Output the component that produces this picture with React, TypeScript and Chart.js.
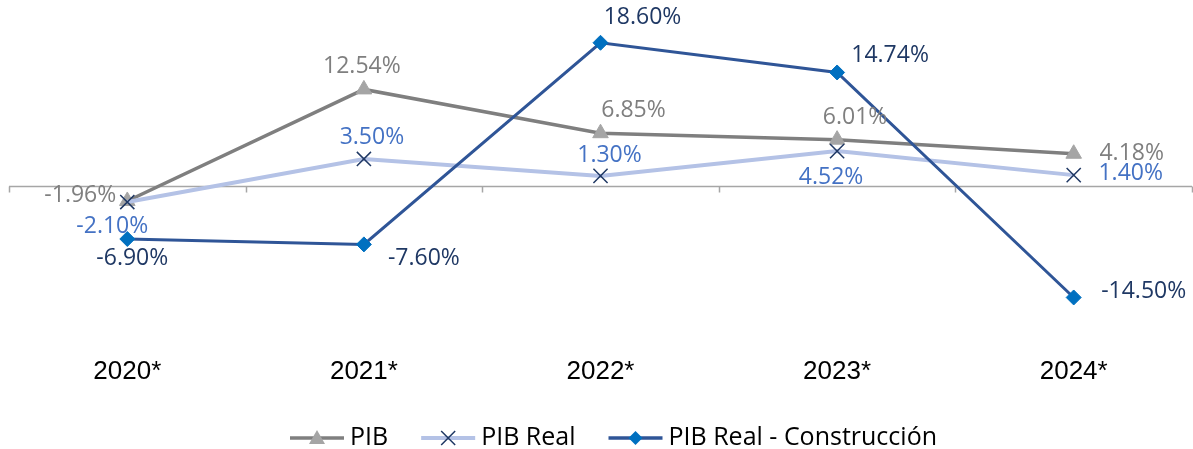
import React, { useEffect, useRef } from 'react';
import { Chart, registerables } from 'chart.js';

Chart.register(...registerables);

const categories = ['2020*', '2021*', '2022*', '2023*', '2024*'];
const seriesNames = ['PIB', 'PIB Real', 'PIB Real - Construcción'];
const pib = [-1.96, 12.54, 6.85, 6.01, 4.18];
const pibReal = [-2.1, 3.5, 1.3, 4.52, 1.4];
const pibConstruccion = [-6.9, -7.6, 18.6, 14.74, -14.5];
const yMin = -20;
const yMax = 20;

// label placement (offset of label centre from its point), per series
const labelOffsets = [
  [[-47, -6], [-2, -23], [33, -23], [18, -22], [58, 0]],
  [[-15, 24], [8, -22], [9, -20], [-6, 26], [57, -2]],
  [[5, 19], [60, 14], [42, -25], [53, -17], [70, -6]],
];

const lineColors = ['#7f7f7f', '#b4c2e6', '#2f5597'];
const labelColors = ['#7f7f7f', '#4472c4', '#1f3864'];
const LABEL_FONT = '23px "Open Sans"';
const LEGEND_FONT = '25px "Open Sans"';

function fmt(v: number) {
  return v.toFixed(2) + '%';
}

function drawMarker(ctx: CanvasRenderingContext2D, kind: number, x: number, y: number) {
  ctx.save();
  if (kind === 0) {
    ctx.fillStyle = '#a5a5a5';
    ctx.beginPath();
    ctx.moveTo(x, y - 8);
    ctx.lineTo(x + 8, y + 6);
    ctx.lineTo(x - 8, y + 6);
    ctx.closePath();
    ctx.fill();
  } else if (kind === 1) {
    ctx.strokeStyle = '#1f3864';
    ctx.lineWidth = 1.5;
    ctx.beginPath();
    ctx.moveTo(x - 7, y - 7);
    ctx.lineTo(x + 7, y + 7);
    ctx.moveTo(x + 7, y - 7);
    ctx.lineTo(x - 7, y + 7);
    ctx.stroke();
  } else {
    ctx.fillStyle = '#0070c0';
    ctx.beginPath();
    ctx.moveTo(x, y - 7);
    ctx.lineTo(x + 7, y);
    ctx.lineTo(x, y + 7);
    ctx.lineTo(x - 7, y);
    ctx.closePath();
    ctx.fill();
  }
  ctx.restore();
}

const zeroLinePlugin = {
  id: 'zeroLine',
  beforeDatasetsDraw(chart: any) {
    const { ctx, chartArea, scales } = chart;
    const y = Math.round(scales.y.getPixelForValue(0)) + 0.5;
    const n = categories.length;
    const w = (chartArea.right - chartArea.left) / n;
    ctx.save();
    ctx.strokeStyle = '#a6a6a6';
    ctx.lineWidth = 1.5;
    ctx.beginPath();
    ctx.moveTo(chartArea.left, y);
    ctx.lineTo(chartArea.right, y);
    for (let i = 0; i <= n; i++) {
      const x = Math.round(chartArea.left + i * w) + 0.5;
      ctx.moveTo(x, y);
      ctx.lineTo(x, y + 6);
    }
    ctx.stroke();
    ctx.restore();
  },
};

const labelPlugin = {
  id: 'pointLabels',
  afterDatasetsDraw(chart: any) {
    const { ctx } = chart;
    ctx.save();
    ctx.font = LABEL_FONT;
    ctx.textAlign = 'center';
    ctx.textBaseline = 'middle';
    chart.data.datasets.forEach((ds: any, i: number) => {
      const meta = chart.getDatasetMeta(i);
      ctx.fillStyle = labelColors[i];
      meta.data.forEach((pt: any, j: number) => {
        const [dx, dy] = labelOffsets[i][j];
        ctx.fillText(fmt(ds.data[j]), pt.x + dx, pt.y + dy);
      });
    });
    ctx.restore();
  },
};

const legendPlugin = {
  id: 'lineLegend',
  afterDraw(chart: any) {
    const { ctx } = chart;
    const y = 438;
    let x = 290;
    ctx.save();
    ctx.font = LEGEND_FONT;
    ctx.textBaseline = 'middle';
    ctx.textAlign = 'left';
    seriesNames.forEach((name, i) => {
      ctx.strokeStyle = lineColors[i];
      ctx.lineWidth = i === 1 ? 4 : 3.5;
      ctx.beginPath();
      ctx.moveTo(x, y);
      ctx.lineTo(x + 54, y);
      ctx.stroke();
      drawMarker(ctx, i, x + 27, y);
      ctx.fillStyle = '#000000';
      ctx.fillText(name, x + 60, y);
      x += 60 + ctx.measureText(name).width + 33;
    });
    ctx.restore();
  },
};

export default function App() {
  const ref = useRef<HTMLCanvasElement | null>(null);
  useEffect(() => {
    if (!ref.current) return;
    document.documentElement.style.overflow = 'hidden';
    const chart = new Chart(ref.current, {
      type: 'line',
      data: {
        labels: categories,
        datasets: [
          {
            label: seriesNames[0],
            data: pib,
            borderColor: lineColors[0],
            borderWidth: 3.5,
            pointStyle: 'triangle',
            pointRadius: 9,
            pointBackgroundColor: '#a5a5a5',
            pointBorderColor: '#a5a5a5',
            pointBorderWidth: 1,
            tension: 0,
            order: 3,
          },
          {
            label: seriesNames[1],
            data: pibReal,
            borderColor: lineColors[1],
            borderWidth: 4,
            pointStyle: 'crossRot',
            pointRadius: 10,
            pointBorderColor: '#1f3864',
            pointBackgroundColor: '#1f3864',
            pointBorderWidth: 1.5,
            tension: 0,
            order: 2,
          },
          {
            label: seriesNames[2],
            data: pibConstruccion,
            borderColor: lineColors[2],
            borderWidth: 3,
            pointStyle: 'rectRot',
            pointRadius: 7.5,
            pointBackgroundColor: '#0070c0',
            pointBorderColor: '#0070c0',
            pointBorderWidth: 1,
            tension: 0,
            order: 1,
          },
        ],
      },
      options: {
        animation: false,
        responsive: true,
        maintainAspectRatio: false,
        layout: { autoPadding: false, padding: { top: 32, left: 9, right: 1, bottom: 46 } },
        plugins: {
          legend: { display: false },
          tooltip: { enabled: false },
        },
        scales: {
          x: {
            offset: true,
            grid: { display: false, drawTicks: false },
            border: { display: false },
            ticks: {
              color: '#000000',
              font: { family: '"Liberation Sans", Arial', size: 26 },
              padding: 16,
              maxRotation: 0,
            },
          },
          y: {
            display: false,
            min: yMin,
            max: yMax,
          },
        },
      },
      plugins: [zeroLinePlugin, labelPlugin, legendPlugin],
    });
    return () => chart.destroy();
  }, []);
  return (
    <div style={{ position: 'fixed', left: 0, top: 0, width: 1193, height: 449, background: '#ffffff' }}>
      <canvas ref={ref} />
    </div>
  );
}
